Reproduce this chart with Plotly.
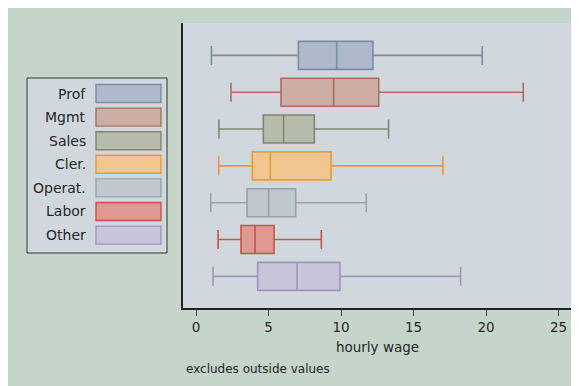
import plotly.graph_objects as go

categories = ["Prof", "Mgmt", "Sales", "Cler.", "Operat.", "Labor", "Other"]
lower_whisker = [1.06, 2.41, 1.58, 1.56, 1.01, 1.52, 1.17]
q1_values = [7.06, 5.86, 4.64, 3.88, 3.52, 3.10, 4.25]
median_values = [9.70, 9.49, 6.04, 5.12, 5.01, 4.07, 6.97]
q3_values = [12.20, 12.60, 8.16, 9.31, 6.87, 5.38, 9.93]
upper_whisker = [19.74, 22.57, 13.28, 17.03, 11.74, 8.64, 18.25]
x_ticks = [0, 5, 10, 15, 20, 25]

fill_colors = ["#aebacb", "#ccaea5", "#b7bdaa", "#f0c78f", "#bfc8cd", "#dd9a92", "#c8c4d9"]
line_colors = ["#7a8ba3", "#a8705f", "#7d8870", "#e89c30", "#95a3a8", "#c9524b", "#9d95c0"]

# page shows the figure with an 8px body margin
OFF = 8
W, H = 579, 386
ML, MR, MT, MB = 175, 15, 15, 86
PW = W - ML - MR
PH = H - MT - MB
FONT = "DejaVu Sans, Liberation Sans, Arial, sans-serif"


def px_x(px):
    # px given in screen (reference) coordinates
    return (px - OFF - ML) / PW


def px_y(py):
    return 1 - (py - OFF - MT) / PH


fig = go.Figure()
for i, cat in enumerate(categories):
    fig.add_trace(go.Box(
        y=[cat], orientation="h",
        lowerfence=[lower_whisker[i]], q1=[q1_values[i]], median=[median_values[i]],
        q3=[q3_values[i]], upperfence=[upper_whisker[i]],
        fillcolor=fill_colors[i], line=dict(color=line_colors[i], width=1.6),
        width=0.76, whiskerwidth=0.68, boxpoints=False, showlegend=False,
        hoverinfo="skip", name=cat,
    ))

shapes = []
# legend box
shapes.append(dict(type="rect", xref="paper", yref="paper", x0=px_x(27), x1=px_x(167),
                   y0=px_y(253), y1=px_y(78), fillcolor="#d0d8dd",
                   line=dict(color="#333333", width=1), layer="below"))
annotations = []
for i, cat in enumerate(categories):
    cy = 93.5 + i * 23.6
    shapes.append(dict(type="rect", xref="paper", yref="paper", x0=px_x(96), x1=px_x(161),
                       y0=px_y(cy + 9), y1=px_y(cy - 9), fillcolor=fill_colors[i],
                       line=dict(color=line_colors[i], width=1.4), layer="above"))
    annotations.append(dict(xref="paper", yref="paper", x=px_x(87.5), y=px_y(cy),
                            xanchor="right", yanchor="middle", text=cat, showarrow=False,
                            font=dict(size=14, color="#262626")))

annotations.append(dict(xref="paper", yref="paper", x=px_x(184), y=px_y(369),
                        xanchor="left", yanchor="middle", text="excludes outside values",
                        showarrow=False, font=dict(size=12, color="#262626")))

fig.update_layout(
    width=W, height=H,
    margin=dict(l=ML, r=MR, t=MT, b=MB, pad=0),
    paper_bgcolor="#c5d5ca", plot_bgcolor="#d0d8dd",
    font=dict(family=FONT, size=13, color="#262626"),
    showlegend=False,
    shapes=shapes, annotations=annotations,
    xaxis=dict(range=[-0.9, 25.93], tickvals=x_ticks, ticktext=[str(t) for t in x_ticks],
               ticks="outside", ticklen=6, tickwidth=1.2, tickcolor="#444444",
               showline=True, linecolor="#222222", linewidth=1.5, showgrid=False, zeroline=False,
               title=dict(text="hourly wage", font=dict(size=13.5), standoff=9),
               tickfont=dict(size=13.5), fixedrange=True),
    yaxis=dict(type="category", categoryorder="array", categoryarray=categories,
               range=[6.86, -0.88], showticklabels=False, ticks="", showgrid=False,
               showline=True, linecolor="#222222", linewidth=1.5, zeroline=False, fixedrange=True),
)

fig.write_html("out.html")
